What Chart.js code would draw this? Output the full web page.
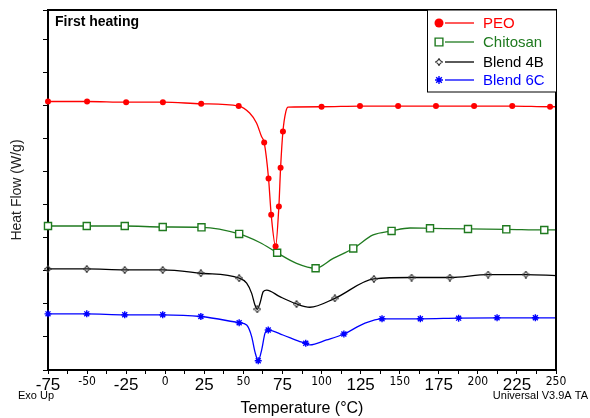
<!DOCTYPE html>
<html>
<head>
<meta charset="utf-8">
<script src="https://cdn.jsdelivr.net/npm/chart.js@4"></script>
<style>
  html, body { margin: 0; background: #fff; }
  #wrap { width: 590px; height: 418px; }
</style>
</head>
<body>
<div id="wrap"><canvas id="dscChart"></canvas></div>
<script>
// temperature (°C) and heat flow (one unit = one y tick)
let peoT = [-75, -50, -25, -1.5, 23, 47, 54, 58.4, 61.6, 63.3, 66.1, 67.8, 70.6, 72.7, 73.8, 75.3, 77.2, 78.6, 100, 124.6, 149, 173.2, 197.6, 222, 246.2, 250];
let peoHF = [8.13, 8.13, 8.11, 8.11, 8.06, 7.99, 7.78, 7.48, 7.07, 6.89, 5.80, 4.70, 3.75, 4.95, 6.12, 7.22, 7.83, 7.96, 7.97, 7.99, 7.99, 7.99, 7.99, 7.99, 7.97, 7.97];
let peoMark = [1, 1, 1, 1, 1, 1, 0, 0, 0, 1, 1, 1, 1, 1, 1, 1, 0, 0, 1, 1, 1, 1, 1, 1, 1, 0];

let chitT = [-75, -50.2, -25.9, -1.6, 23.2, 47.3, 60.5, 71.6, 84, 96.2, 107.5, 120.3, 133, 144.8, 156.6, 169.4, 193.7, 218.2, 242.5, 250];
let chitHF = [4.36, 4.36, 4.36, 4.33, 4.32, 4.12, 3.86, 3.55, 3.23, 3.08, 3.38, 3.68, 4.09, 4.21, 4.30, 4.29, 4.27, 4.26, 4.24, 4.24];
let chitMark = [1, 1, 1, 1, 1, 1, 0, 1, 0, 1, 0, 1, 0, 1, 0, 1, 1, 1, 1, 0];

let b4T = [-75, -50.2, -25.9, -1.6, 22.8, 47.3, 52.1, 55.3, 57.4, 58.9, 60.6, 62.7, 64.9, 73.3, 84, 92.5, 108.5, 133.5, 157.6, 182.1, 206.6, 230.7, 250];
let b4HF = [3.06, 3.06, 3.03, 3.03, 2.93, 2.78, 2.63, 2.32, 1.97, 1.84, 2.02, 2.37, 2.42, 2.22, 2.00, 1.90, 2.17, 2.76, 2.80, 2.80, 2.89, 2.89, 2.86];
let b4Mark = [1, 1, 1, 1, 1, 1, 0, 0, 0, 1, 0, 0, 0, 0, 1, 0, 1, 1, 1, 1, 1, 1, 0];

let b6T = [-75, -50.2, -25.9, -1.6, 22.8, 47.3, 52.1, 55.3, 57.4, 59.5, 61.7, 63.8, 65.9, 75.3, 86.1, 89.9, 92.5, 103.2, 114.3, 127.8, 138.7, 163.2, 187.7, 212.3, 236.8, 250];
let b6HF = [1.70, 1.70, 1.67, 1.67, 1.62, 1.43, 1.36, 1.01, 0.55, 0.28, 0.61, 1.11, 1.21, 1.06, 0.86, 0.81, 0.76, 0.91, 1.09, 1.42, 1.55, 1.55, 1.57, 1.58, 1.58, 1.58];
let b6Mark = [1, 1, 1, 1, 1, 1, 0, 0, 0, 1, 0, 0, 1, 0, 0, 1, 0, 0, 1, 0, 1, 1, 1, 1, 1, 0];

let seriesNames = ['PEO', 'Chitosan', 'Blend 4B', 'Blend 6C'];
let seriesColors = ['#ff0000', '#1f7a1f', '#000000', '#0000ff'];

// concave four point star used by TA Universal Analysis for the 4B curve
function sparkle(color, size) {
    const c = document.createElement('canvas');
    c.width = c.height = size;
    const g = c.getContext('2d');
    const m = size / 2, k = 0.9;
    g.strokeStyle = color;
    g.lineWidth = 1.1;
    g.beginPath();
    g.moveTo(m, 0.5);
    g.quadraticCurveTo(m + k, m - k, size - 0.5, m);
    g.quadraticCurveTo(m + k, m + k, m, size - 0.5);
    g.quadraticCurveTo(m - k, m + k, 0.5, m);
    g.quadraticCurveTo(m - k, m - k, m, 0.5);
    g.stroke();
    return c;
}

function makeSet(i, T, HF, marks, style, radius) {
    return {
        label: seriesNames[i],
        data: T.map((t, j) => ({ x: t, y: HF[j] })),
        borderColor: seriesColors[i],
        backgroundColor: style === 'circle' ? seriesColors[i] : '#ffffff',
        borderWidth: 1.3,
        pointBorderWidth: style === 'circle' ? 0 : 1.4,
        pointStyle: style,
        pointRadius: ctx => marks[ctx.dataIndex] ? radius : 0,
        cubicInterpolationMode: 'monotone',
        clip: false
    };
}

const datasets = [
    makeSet(0, peoT, peoHF, peoMark, 'circle', 3),
    makeSet(1, chitT, chitHF, chitMark, 'rect', 5),
    makeSet(2, b4T, b4HF, b4Mark, sparkle('#333333', 8), 4),
    makeSet(3, b6T, b6HF, b6Mark, 'star', 3.5)
];

const extras = {
    id: 'extras',
    afterDraw(chart) {
        const ctx = chart.ctx;
        const a = chart.chartArea;
        ctx.save();
        // top and right frame
        ctx.strokeStyle = '#000';
        ctx.lineWidth = 2;
        ctx.beginPath();
        ctx.moveTo(a.left, a.top);
        ctx.lineTo(a.right, a.top);
        ctx.lineTo(a.right, a.bottom);
        ctx.stroke();

        ctx.fillStyle = '#000';
        ctx.textBaseline = 'middle';
        ctx.font = 'bold 14px Arial, "Liberation Sans"';
        ctx.textAlign = 'left';
        ctx.fillText('First heating', a.left + 7, a.top + 12);

        ctx.font = '11px Arial, "Liberation Sans"';
        ctx.fillText('Exo Up', 18, 396);
        ctx.textAlign = 'right';
        ctx.fillText('Universal V3.9A TA', 588, 396);

        // legend box
        const bx = 427, by = a.top, bw = a.right - 427, bh = 82;
        ctx.lineWidth = 1;
        ctx.fillStyle = '#fff';
        ctx.fillRect(bx, by, bw, bh);
        ctx.strokeStyle = '#000';
        ctx.strokeRect(bx + 0.5, by, bw, bh);
        const rows = [23, 42, 62, 80];
        chart.data.datasets.forEach((ds, i) => {
            const y = rows[i];
            ctx.strokeStyle = ds.borderColor;
            ctx.lineWidth = 1.3;
            ctx.beginPath();
            ctx.moveTo(445, y);
            ctx.lineTo(474, y);
            ctx.stroke();
            ctx.fillStyle = ds.backgroundColor;
            ctx.lineWidth = ds.pointBorderWidth;
            Chart.helpers.drawPoint(ctx, {
                pointStyle: ds.pointStyle,
                radius: i === 0 ? 4.5 : (i === 1 ? 5.5 : 4),
                borderWidth: ds.pointBorderWidth,
                rotation: 0
            }, 439, y);
            ctx.fillStyle = seriesColors[i];
            ctx.textAlign = 'left';
            ctx.font = '15px Arial, "Liberation Sans"';
            ctx.fillText(ds.label, 483, y + 1);
        });
        ctx.restore();
    }
};

const bigFont = { family: 'Arial, "Liberation Sans"', size: 17 };
const smallFont = { family: '"Liberation Sans Narrow", "DejaVu Sans Condensed", Arial', size: 12 };

const config = {
    type: 'line',
    data: { datasets: datasets },
    options: {
        responsive: true,
        maintainAspectRatio: false,
        animation: false,
        layout: { padding: { top: 10, right: 34, left: 0, bottom: 0 } },
        plugins: {
            legend: { display: false },
            title: { display: false },
            tooltip: { enabled: false }
        },
        scales: {
            x: {
                type: 'linear',
                min: -75,
                max: 250,
                afterFit: s => { s.height = 48; },
                border: { color: '#000', width: 2 },
                grid: { drawOnChartArea: false, tickLength: 4, color: '#000' },
                ticks: {
                    stepSize: 12.5,
                    autoSkip: false,
                    maxRotation: 0,
                    padding: 1,
                    color: '#000',
                    callback: v => (v % 25 === 0 ? String(v) : ''),
                    font: c => (c.tick && Math.abs(c.tick.value / 25) % 2 === 1 ? bigFont : smallFont)
                },
                title: {
                    display: true,
                    text: 'Temperature (°C)',
                    color: '#000',
                    font: { family: 'Arial, "Liberation Sans"', size: 16 },
                    padding: { top: 0, bottom: 0 }
                }
            },
            y: {
                min: 0,
                max: 10.9,
                afterFit: s => { s.width = 48; },
                border: { color: '#000', width: 2 },
                grid: { drawOnChartArea: false, tickLength: 5, color: '#000' },
                ticks: { stepSize: 1, callback: () => '', padding: 0 },
                title: {
                    display: true,
                    text: 'Heat Flow (W/g)',
                    color: '#222',
                    font: { family: 'Arial, "Liberation Sans"', size: 14 },
                    padding: { top: 9, bottom: 0 }
                }
            }
        }
    },
    plugins: [extras]
};

const chart = new Chart(document.getElementById('dscChart'), config);
</script>
</body>
</html>
